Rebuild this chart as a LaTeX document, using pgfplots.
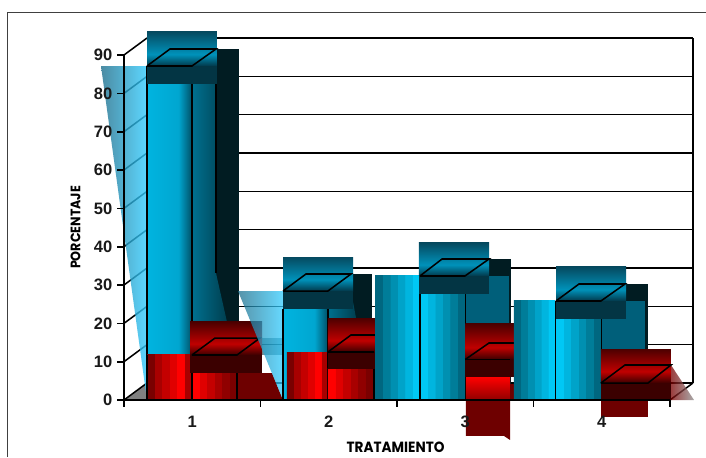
\documentclass[border=0pt]{standalone}
\usepackage{pgfplots}
\pgfplotsset{compat=1.18}
\usepackage{fontspec}
\setmainfont{Liberation Sans}
\newfontfamily\gothic[FakeStretch=0.92]{Poppins}
\definecolor{bA}{HTML}{00C8F5}\definecolor{bB}{HTML}{00B5DF}\definecolor{bC}{HTML}{00A3C9}
\definecolor{bD}{HTML}{0090B1}\definecolor{bE}{HTML}{007D99}\definecolor{bF}{HTML}{006780}
\definecolor{rA}{HTML}{FF0000}\definecolor{rB}{HTML}{E00000}\definecolor{rC}{HTML}{C40000}
\definecolor{rD}{HTML}{A80000}\definecolor{rE}{HTML}{900000}\definecolor{rF}{HTML}{7A0000}
\definecolor{band}{HTML}{033544}\definecolor{rband}{HTML}{3B0000}
\definecolor{darkblk}{HTML}{011C22}\definecolor{panel}{HTML}{005F7A}
\definecolor{redside}{HTML}{6E0000}\definecolor{capmid}{HTML}{0092BA}\definecolor{captop}{HTML}{054A60}
\definecolor{capbot}{HTML}{02384A}\definecolor{rcapmid}{HTML}{C00000}\definecolor{rcaptop}{HTML}{4D0000}
\definecolor{rcapbot}{HTML}{3B0000}\definecolor{fa}{HTML}{00B4E0}\definecolor{fb}{HTML}{00A6D0}
\definecolor{fc}{HTML}{004F66}\definecolor{sa}{HTML}{00708F}\definecolor{sb}{HTML}{003F50}
\definecolor{trL}{HTML}{1F6F8C}\definecolor{trR}{HTML}{33CCFF}
\pgfdeclarehorizontalshading{blueR}{100bp}{color(0bp)=(bA);color(33.3bp)=(bA);color(33.31bp)=(bB);color(41.6bp)=(bB);color(41.61bp)=(bC);color(50bp)=(bC);color(50.01bp)=(bD);color(58.3bp)=(bD);color(58.31bp)=(bE);color(66.6bp)=(bE);color(66.61bp)=(bF);color(100bp)=(bF)}
\pgfdeclarehorizontalshading{blueL}{100bp}{color(0bp)=(bF);color(33.3bp)=(bF);color(33.31bp)=(bE);color(41.6bp)=(bE);color(41.61bp)=(bD);color(50bp)=(bD);color(50.01bp)=(bC);color(58.3bp)=(bC);color(58.31bp)=(bB);color(66.6bp)=(bB);color(66.61bp)=(bA);color(100bp)=(bA)}
\pgfdeclarehorizontalshading{redR}{100bp}{color(0bp)=(rA);color(33.3bp)=(rA);color(33.31bp)=(rB);color(41.6bp)=(rB);color(41.61bp)=(rC);color(50bp)=(rC);color(50.01bp)=(rD);color(58.3bp)=(rD);color(58.31bp)=(rE);color(66.6bp)=(rE);color(66.61bp)=(rF);color(100bp)=(rF)}
\pgfdeclarehorizontalshading{redF}{100bp}{color(0bp)=(rF);color(33.3bp)=(rF);color(33.31bp)=(rD);color(41.6bp)=(rD);color(41.61bp)=(rC);color(50bp)=(rC);color(50.01bp)=(rB);color(58.3bp)=(rB);color(58.31bp)=(rA);color(66.6bp)=(rA);color(66.61bp)=(rD);color(100bp)=(rD)}
\pgfdeclarehorizontalshading{frontB}{100bp}{color(0bp)=(fa);color(25bp)=(fa);color(60bp)=(fb);color(75bp)=(fc);color(100bp)=(fc)}
\pgfdeclarehorizontalshading{sideB}{100bp}{color(0bp)=(sa);color(25bp)=(sa);color(75bp)=(sb);color(100bp)=(sb)}
\pgfdeclareverticalshading{capB}{100bp}{color(0bp)=(capbot);color(25bp)=(capbot);color(42bp)=(capmid);color(75bp)=(captop);color(100bp)=(captop)}
\pgfdeclareverticalshading{capR}{100bp}{color(0bp)=(rcapbot);color(25bp)=(rcapbot);color(42bp)=(rcapmid);color(75bp)=(rcaptop);color(100bp)=(rcaptop)}
\newcommand\piece[2]{\addplot[draw=none,#1] coordinates {#2} -- cycle;}
\newcommand\seg[1]{\addplot[black,line width=1.15pt] coordinates {#1};}
\begin{document}
\begin{tikzpicture}[x=0.75pt,y=0.75pt]
\path[use as bounding box] (0,0) rectangle (706,457);
\draw[color=black!75,line width=0.75pt] (7,0) -- (7,444) -- (706,444);
\begin{axis}[
  at={(93pt,42.75pt)},anchor=south west,scale only axis,width=409.5pt,height=258.75pt,
  xmin=0.5,xmax=4.5,ymin=0,ymax=90,clip=false,no marks,axis on top,
  axis lines=left,axis line style={-,line width=1.25pt,black},
  xtick={1,2,3,4},xticklabels={1,2,3,4},
  ytick={0,10,...,90},
  xtick style={draw=none},ytick style={black,line width=1.25pt},
  major tick length=5.25pt,tick align=outside,
  /pgf/number format/assume math mode=true,
  tick label style={font=\fontsize{12.4}{14}\selectfont\bfseries,text=black!90},
  xticklabel style={yshift=-3pt},
  ylabel={PORCENTAJE},xlabel={TRATAMIENTO},
  xlabel style={at={(axis cs:2.49,-12.4)},anchor=center,font=\fontsize{11.1}{12}\selectfont\gothic\bfseries},
  ylabel style={at={(axis cs:0.145,45)},anchor=center,rotate=0,font=\fontsize{10.3}{12}\selectfont\gothic\bfseries},
]
% back wall grid
\seg{(0.6685,4.43)(4.668,4.43)}\seg{(0.6685,14.43)(4.668,14.43)}\seg{(0.6685,24.43)(4.668,24.43)}
\seg{(0.6685,34.43)(4.668,34.43)}\seg{(0.6685,44.43)(4.668,44.43)}\seg{(0.6685,54.43)(4.668,54.43)}
\seg{(0.6685,64.43)(4.668,64.43)}\seg{(0.6685,74.43)(4.668,74.43)}\seg{(0.6685,84.43)(4.668,84.43)}
\seg{(0.6685,94.43)(4.668,94.43)}\seg{(4.668,4.43)(4.668,94.43)}\seg{(4.5,0)(4.668,4.43)}
\piece{fill=black!50}{(0.5,0)(0.6685,4.43)(0.6685,0)}
\seg{(0.5,0)(0.6685,4.43)}\seg{(0.5,10)(0.6685,14.43)}\seg{(0.5,20)(0.6685,24.43)}\seg{(0.5,30)(0.6685,34.43)}
\seg{(0.5,40)(0.6685,44.43)}\seg{(0.5,50)(0.6685,54.43)}\seg{(0.5,60)(0.6685,64.43)}\seg{(0.5,70)(0.6685,74.43)}
\seg{(0.5,80)(0.6685,84.43)}\seg{(0.5,90)(0.6685,94.43)}
% category 1 blue
\piece{left color=trL,right color=trR,opacity=0.8}{(0.3315,87.13)(0.6685,87.13)(0.6685,0)}
\piece{fill=darkblk}{(1.174,91.57)(1.3425,91.57)(1.3425,20.35)(1.174,20.35)}
\piece{shading=sideB}{(0.998,87.13)(1.174,87.13)(1.174,33.1)(1.2546,20.35)(0.998,20.35)}
\piece{shading=frontB}{(0.6685,87.13)(0.998,87.13)(0.998,11.74)(0.6685,11.74)}
\seg{(0.6685,87.13)(0.6685,0)}\seg{(0.998,87.13)(0.998,0)}\seg{(1.174,91.57)(1.174,33.1)}
\piece{shading=capB}{(0.6685,87.13)(1.181,87.13)(1.181,96.08)(0.6685,96.08)}
\piece{fill=band}{(0.6685,87.13)(1.181,87.13)(1.181,82.43)(0.6685,82.43)}
\seg{(0.6685,87.13)(0.998,87.13)(1.174,91.57)(0.837,91.57)(0.6685,87.13)}
% category 1 red
\piece{fill=redside}{(1.328,7.04)(1.584,7.04)(1.665,0)(1.328,0)}
\piece{shading=redF}{(0.6685,11.74)(0.998,11.74)(0.998,0)(0.6685,0)}
\piece{shading=redR}{(0.998,7.04)(1.328,7.04)(1.328,0)(0.998,0)}
\seg{(0.6685,11.74)(0.6685,0)}\seg{(0.998,11.74)(0.998,0)}\seg{(1.328,7.04)(1.328,0)}
\piece{shading=capR}{(0.9835,11.74)(1.511,11.74)(1.511,20.35)(0.9835,20.35)}
\piece{fill=rband}{(0.9835,11.74)(1.511,11.74)(1.511,7.04)(0.9835,7.04)}
\seg{(0.998,11.74)(1.328,11.74)(1.496,16.17)(1.167,16.17)(0.998,11.74)}
% category 2 blue
\piece{fill=darkblk}{(2.14,32.87)(2.317,32.87)(2.317,21.39)(2.14,21.39)}
\piece{shading=sideB}{(1.994,28.43)(2.163,28.43)(2.2,21.39)(1.994,21.39)}
\piece{fill=band,opacity=0.55}{(1.511,16.17)(1.665,16.17)(1.665,11.74)(1.511,11.74)}
\piece{left color=trL,right color=trR,opacity=0.75}{(1.335,28.43)(1.665,28.43)(1.665,0)}
\piece{shading=frontB}{(1.665,28.43)(1.994,28.43)(1.994,0)(1.665,0)}
\seg{(1.665,23.74)(1.665,0)}\seg{(1.994,28.43)(1.994,0)}
\piece{shading=redF}{(1.694,12.52)(1.994,12.52)(1.994,0)(1.694,0)}
\seg{(1.994,12.52)(1.994,0)}
\piece{shading=capB}{(1.665,28.43)(2.178,28.43)(2.178,37.3)(1.665,37.3)}
\piece{fill=band}{(1.665,28.43)(2.178,28.43)(2.178,23.74)(1.665,23.74)}
\seg{(1.665,28.43)(1.994,28.43)(2.163,32.87)(1.833,32.87)(1.665,28.43)}
% category 2 red
\piece{shading=redR}{(1.994,8.09)(2.324,8.09)(2.324,0)(1.994,0)}
\seg{(2.331,8.09)(2.331,0)}
\piece{shading=capR}{(1.994,12.52)(2.339,12.52)(2.339,21.39)(1.994,21.39)}
\piece{fill=rband}{(1.994,12.52)(2.339,12.52)(2.339,8.09)(1.994,8.09)}
\seg{(1.994,12.52)(2.331,12.52)}\seg{(1.994,12.52)(2.163,16.96)(2.339,16.96)}
% category 3 blue
\piece{fill=darkblk}{(3.174,36.78)(3.335,36.78)(3.335,0)(3.174,0)}
\piece{fill=panel}{(3.005,32.35)(3.32,32.35)(3.32,0)(3.005,0)}
\piece{shading=blueL}{(2.339,32.35)(2.668,32.35)(2.668,0)(2.339,0)}
\piece{shading=blueR}{(2.668,32.35)(2.998,32.35)(2.998,0)(2.668,0)}
\seg{(2.668,32.35)(2.668,0)}\seg{(3.002,32.35)(3.002,0)}
\piece{shading=capB}{(2.661,32.35)(3.174,32.35)(3.174,40.96)(2.661,40.96)}
\piece{fill=band}{(2.661,32.35)(3.174,32.35)(3.174,27.78)(2.661,27.78)}
\seg{(2.668,32.35)(2.998,32.35)(3.174,36.78)(2.83,36.78)(2.668,32.35)}
% category 3 red
\piece{fill=redside}{(3.005,0)(3.328,0)(3.328,-10.43)(3.284,-9.39)(3.005,-9.39)}
\piece{top color=rA,bottom color=rE}{(3.005,6)(3.328,6)(3.328,0)(3.005,0)}
\piece{fill=redside}{(3.328,4.17)(3.357,4.17)(3.357,0)(3.328,0)}
\piece{shading=capR}{(3.0,10.57)(3.357,10.57)(3.357,19.83)(3.0,19.83)}
\piece{fill=rband}{(3.0,10.57)(3.357,10.57)(3.357,6)(3.0,6)}
\seg{(3.0,10.57)(3.328,10.57)}\seg{(3.0,10.57)(3.174,14.87)(3.357,14.87)}
% category 4 blue
\piece{fill=darkblk}{(4.178,30.26)(4.339,30.26)(4.339,0)(4.178,0)}
\piece{fill=panel}{(4.002,25.83)(4.317,25.83)(4.317,0)(4.002,0)}
\piece{shading=blueL}{(3.357,25.83)(3.657,25.83)(3.657,0)(3.357,0)}
\piece{shading=blueR}{(3.665,25.83)(3.994,25.83)(3.994,0)(3.665,0)}
\seg{(3.661,25.83)(3.661,0)}\seg{(3.998,25.83)(3.998,0)}
\piece{shading=capB}{(3.665,25.83)(4.178,25.83)(4.178,34.7)(3.665,34.7)}
\piece{fill=band}{(3.665,25.83)(4.178,25.83)(4.178,21.13)(3.665,21.13)}
\seg{(3.665,25.83)(3.994,25.83)(4.17,30.26)(3.833,30.26)(3.665,25.83)}
% category 4 red
\piece{fill=redside}{(3.994,0)(4.339,0)(4.339,-4.43)(3.994,-4.43)}
\piece{left color=rF,right color=black!45,opacity=0.75}{(4.507,9.13)(4.676,0)(4.507,0)}
\piece{shading=capR}{(3.994,4.43)(4.507,4.43)(4.507,13.3)(3.994,13.3)}
\piece{fill=rband}{(3.994,4.43)(4.507,4.43)(4.507,0)(3.994,0)}
\seg{(3.994,4.43)(4.339,4.43)(4.507,9.13)(4.17,9.13)(3.994,4.43)}
% category boundary ticks
\seg{(0.5,0)(0.5,-1.8)}\seg{(1.5,0)(1.5,-1.8)}\seg{(2.5,0)(2.5,-1.8)}\seg{(3.5,0)(3.5,-1.8)}\seg{(4.5,0)(4.5,-1.8)}
\end{axis}
\end{tikzpicture}
\end{document}
